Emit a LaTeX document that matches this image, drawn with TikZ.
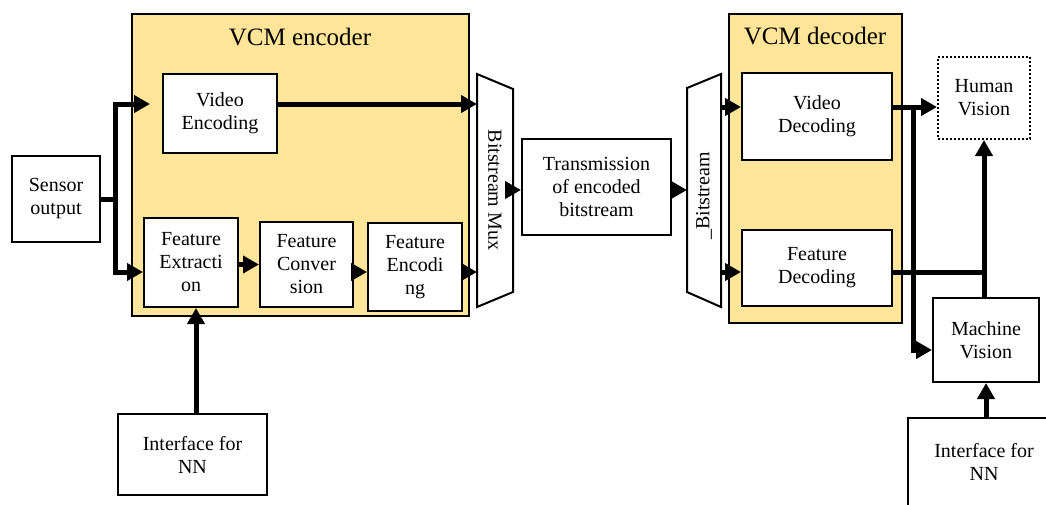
\documentclass[tikz,border=0pt]{standalone}
\usepackage{fontspec}
\setmainfont{Liberation Serif}
\usetikzlibrary{arrows.meta}
\definecolor{vcmyellow}{RGB}{255,229,153}
\begin{document}
\begin{tikzpicture}[x=1pt,y=-1pt,
  box/.style={draw, line width=2pt, fill=white, align=center, inner sep=0pt,
    font=\fontsize{20}{23}\selectfont},
  group/.style={draw, line width=2pt, fill=vcmyellow},
  ttl/.style={font=\fontsize{25}{28}\selectfont},
  arr/.style={line width=5pt, -{Triangle[length=16pt,width=17pt]}},
  ln/.style={line width=5pt}]
\useasboundingbox (0,0) rectangle (1046,504);
\clip (0,0) rectangle (1046,504);
% groups
\node[group, minimum width=337pt, minimum height=302pt] (enc) at (300.5,165) {};
\node[ttl] (enct) at (300,37) {VCM encoder};
\node[group, minimum width=173pt, minimum height=309pt] (dec) at (815.5,168.5) {};
\node[ttl] (dect) at (815,36) {VCM decoder};
% boxes
\node[box, minimum width=88pt, minimum height=86pt] (sensor) at (56,199) {Sensor\\output};
\node[box, minimum width=114pt, minimum height=79pt] (ve) at (220,113.5) {Video\\Encoding};
\node[box, minimum width=94pt, minimum height=89pt] (fe) at (191,262.5) {Feature\\Extracti\\on};
\node[box, minimum width=93pt, minimum height=85pt] (fc) at (306.5,264.5) {Feature\\Conver\\sion};
\node[box, minimum width=94pt, minimum height=88pt] (fenc) at (415,267) {Feature\\Encodi\\ng};
\node[box, minimum width=149pt, minimum height=96pt] (trans) at (596.5,187) {Transmission\\of encoded\\bitstream};
\node[box, minimum width=150pt, minimum height=87pt] (vd) at (817,116.5) {Video\\Decoding};
\node[box, minimum width=150pt, minimum height=76pt] (fd) at (817,268) {Feature\\Decoding};
\node[box, dotted, minimum width=92pt, minimum height=82pt] (hv) at (984,98) {Human\\Vision};
\node[box, minimum width=106pt, minimum height=84pt] (mv) at (986,340) {Machine\\Vision};
\node[box, minimum width=149pt, minimum height=81pt] (nnl) at (192.5,454.5) {Interface for\\NN};
\node[box, minimum width=152pt, minimum height=88pt] (nnr) at (984,462) {Interface for\\NN};
% mux / demux
\draw[line width=2pt, fill=white] (477,74) -- (513,89) -- (513,292) -- (477,307) -- cycle;
\node[rotate=-90, font=\fontsize{20}{23}\selectfont] (mux) at (495,190) {Bitstream Mux};
\draw[line width=2pt, fill=white] (687,88) -- (721,74) -- (721,307) -- (687,292) -- cycle;
\node[rotate=90, font=\fontsize{20}{23}\selectfont] (demux) at (704,196) {\_Bitstream};
\coordinate (muxL) at (477,190);
\coordinate (muxR) at (513,190);
\coordinate (dmxL) at (687,190);
\coordinate (dmxR) at (721,190);
% encoder connectors
\coordinate (sp) at (115,199);
\coordinate (vein) at (150,104);
\draw[arr] (sensor.east) -- (sp) |- (vein);
\draw[arr] (sp) |- (fe.west |- 0,272);
\draw[arr] (ve.east |- 0,104) -- (muxL |- 0,104);
\draw[arr] (fe.east |- fc.west) -- (fc.west);
\draw[arr] (fc.east |- 0,272) -- (fenc.west |- 0,272);
\draw[arr] (fenc.east |- 0,272) -- (muxL |- 0,272);
\draw[arr] (196,0 |- nnl.north) -- (196,0 |- fe.south);
\draw[arr] (muxR) -- (trans.west |- muxR);
\draw[arr] (trans.east |- dmxL) -- (dmxL);
% decoder connectors
\draw[arr] (dmxR |- 0,107) -- (vd.west |- 0,107);
\draw[arr] (dmxR |- 0,272) -- (fd.west |- 0,272);
\coordinate (br) at (913,107);
\coordinate (jn) at (984,272);
\draw[arr] (vd.east |- br) -- (hv.west |- br);
\draw[arr] (br) |- (mv.west |- 0,350);
\draw[ln] (fd.east |- jn) -- (jn);
\draw[arr] (jn |- mv.north) -- (jn |- hv.south);
\draw[arr] (mv.south |- nnr.north) -- (mv.south);
\end{tikzpicture}
\end{document}
